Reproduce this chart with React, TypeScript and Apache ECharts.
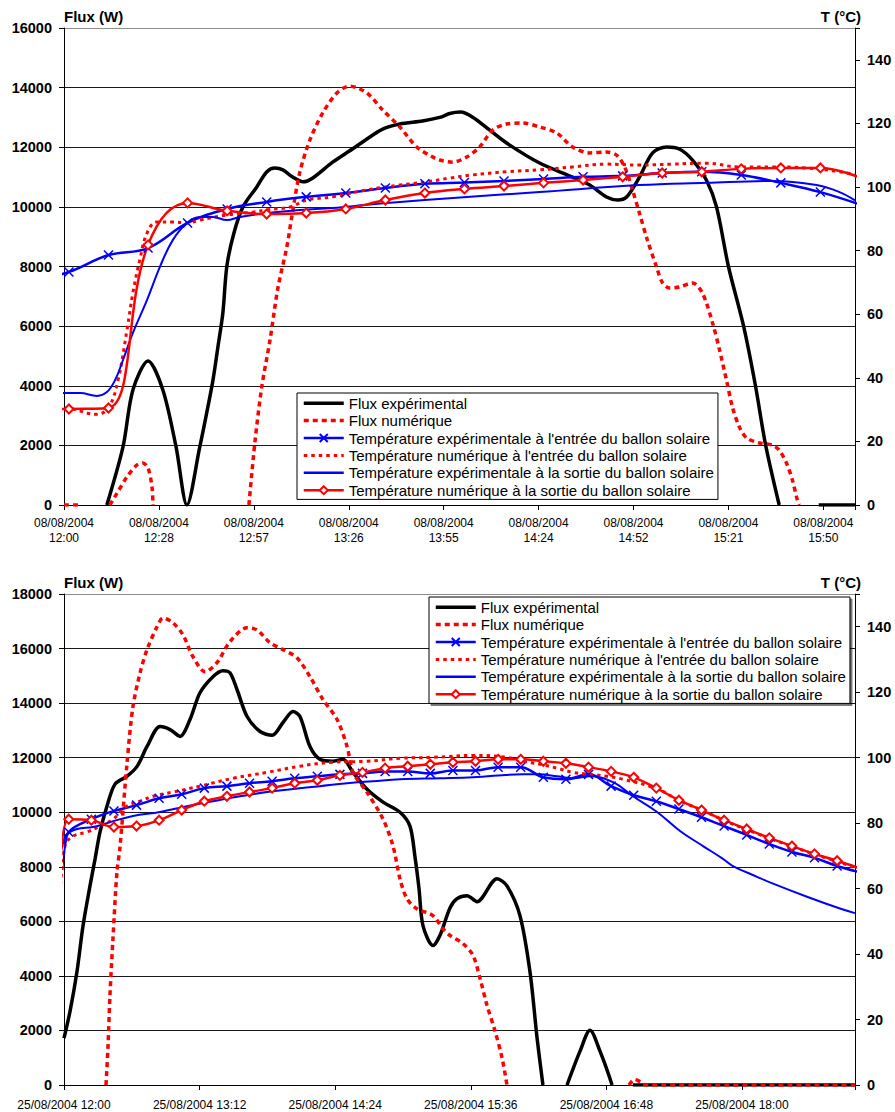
import React, { useEffect, useRef } from 'react';
import * as echarts from 'echarts';

const FONT = '"Liberation Sans", Arial, Helvetica, sans-serif';

const N_FE = 'Flux expérimental';
const N_FN = 'Flux numérique';
const N_TIE = "Température expérimentale à l'entrée du ballon solaire";
const N_TIN = "Température numérique à l'entrée du ballon solaire";
const N_TOE = 'Température expérimentale à la sortie du ballon solaire';
const N_TON = 'Température numérique à la sortie du ballon solaire';

const TOP_DATE = '08/08/2004';
const BOT_DATE = '25/08/2004';
const TOP_X_LABELS = ['12:00', '12:28', '12:57', '13:26', '13:55', '14:24', '14:52', '15:21', '15:50'];
const BOT_X_LABELS = ['12:00', '13:12', '14:24', '15:36', '16:48', '18:00'];

// ---------- top chart (minutes after 12:00) ----------
const TOP_FLUX_EXP = [
  [13, 0], [17.9, 1950], [20.9, 3860], [25.5, 4830], [30, 3860], [34, 1950], [37.3, 0],
  [41.2, 1950], [43.3, 3090], [45.2, 4190], [46.7, 5300], [48.2, 6440], [49.4, 8000], [51.5, 9100],
  [54.3, 10000], [58.5, 10670], [61.5, 11170], [64, 11300], [66.4, 11240], [69.4, 11000], [72.5, 10840],
  [75.5, 10970], [81.5, 11500], [87.5, 11940], [91.8, 12270], [96.7, 12610], [101.9, 12780], [108.8, 12880],
  [114, 13000], [117, 13130], [120.3, 13180], [124, 13010], [129.1, 12580], [134.3, 12140], [144.3, 11470],
  [154.3, 11000], [159.5, 10730], [164.6, 10330], [168, 10230], [170.7, 10330], [174.6, 11000], [178.6, 11810],
  [182.8, 12010], [186.7, 11940], [190.7, 11570], [194.9, 10900], [198, 9990], [201.6, 8000], [206.2, 6000],
  [209.8, 4000], [212.9, 2000], [217, 0], [217.1, null], [228.9, null], [229, 0], [240, 0],
];
const TOP_FLUX_NUM = [
  [0, 0], [5, 0], [5.1, null], [13.8, null], [13.9, 0], [16.1, 400], [19.1, 940], [22.1, 1340], [23.9, 1410],
  [25.5, 1240], [26.7, 600], [27.0, 0], [27.1, null],
  [56.0, null], [56.1, 0], [57.9, 2080], [60, 3960], [62.5, 5530], [64.9, 7280], [67.6, 8650], [69.1, 9660], [71.5, 11140],
  [74.6, 12240], [78.5, 13150], [82.8, 13820], [86.7, 14050], [91.9, 13820], [96.7, 13250], [101.9, 12680],
  [107, 12010], [111.9, 11670], [114, 11570], [117.9, 11500], [122.2, 11670], [126.1, 12010], [130.1, 12580],
  [134.3, 12780], [139.2, 12810], [144.3, 12680], [149.5, 12480], [154.3, 12010], [159.5, 11810], [164.6, 11840],
  [167.6, 11740], [170.1, 11340], [172.2, 10670], [174.6, 9790], [177, 8890], [179.8, 7980], [181.6, 7450],
  [183.7, 7280], [186.7, 7310], [190.7, 7450], [193.7, 7110], [196.8, 6100], [198.9, 5200], [201, 4190],
  [202.8, 3290], [204.9, 2620], [207.1, 2250], [211, 2080], [214.9, 2010], [217, 1840], [219.2, 1410],
  [221, 840], [222.5, 170], [223.1, 0], [223.2, null],
];
const TOP_T_TIMES = [-10.5, 1.5, 13.5, 25.5, 37.5, 49.5, 61.5, 73.5, 85.5, 97.5, 109.5, 121.5, 133.5, 145.5, 157.5, 169.5, 181.5, 193.5, 205.5, 217.5, 229.5, 241.5];
const TOP_TIN_EXP = [70, 73.3, 78.6, 80.8, 88.7, 93.1, 95.3, 96.9, 98.1, 99.7, 101.0, 101.4, 101.9, 102.5, 103.2, 103.5, 104.4, 104.8, 103.8, 101.3, 98.4, 94.5];
const TOP_TOUT_NUM = [30, 30.2, 30.5, 81.8, 95.0, 92.5, 91.5, 91.8, 93.1, 95.9, 98.1, 99.4, 100.3, 101.3, 102.2, 103.2, 104.4, 104.8, 105.7, 106.0, 106.0, 103.0];
const TOP_TIN_NUM = [
  [-2, 30.5], [1.8, 30.3], [10, 28.5], [13.6, 30.8], [16.4, 39.3], [19.1, 55], [20.9, 66.7], [23, 77.1],
  [25.2, 85.5], [28.2, 89.0], [33, 89.0], [37.3, 88.7], [41.2, 89.6], [49.4, 91.2], [57.3, 92.1], [61.5, 92.8],
  [68.5, 93.7], [73.7, 95.9], [81.5, 96.9], [91.9, 99.1], [101.9, 100.6], [110, 101.6], [117, 102.8],
  [124, 103.8], [134.3, 104.8], [144.3, 105.4], [154.3, 106.3], [164.6, 107.2], [174.6, 106.9], [184.6, 107.2],
  [194.9, 107.5], [204.9, 106.3], [214.9, 106.3], [225.2, 106.0], [235.3, 104.8], [240, 103.8],
];
const TOP_TOUT_EXP = [
  [-2, 35.2], [0.3, 35.2], [4.9, 35.2], [10, 34.3], [13, 35.5], [15.5, 39.3], [17.9, 45.6], [20.9, 54.1],
  [25.2, 64.5], [29.1, 74.9], [33, 83.3], [37.3, 88.7], [41.2, 90.6], [45.2, 90.6], [49.4, 89.6], [53.4, 90.6],
  [61.5, 91.8], [71.5, 92.8], [81.5, 93.4], [91.9, 94.4], [101.9, 95.3], [117, 96.5], [144.3, 98.4],
  [174.6, 100.6], [194.9, 101.3], [214.9, 101.9], [228.3, 100.6], [235.3, 98.4], [240, 95.8],
];

// ---------- bottom chart (minutes after 12:00) ----------
const BOT_FLUX_EXP = [
  [0, 1716], [3.2, 2700], [6.9, 4160], [10.1, 5840], [13.8, 7300], [16.5, 8290], [19.1, 9270], [22.8, 10220],
  [27.1, 11030], [33.5, 11320], [38.8, 11680], [44.1, 12410], [51, 13140], [56.3, 13030], [61.6, 12780],
  [66.9, 13400], [72.2, 14380], [79.1, 14970], [84.4, 15190], [88.1, 15110], [91.9, 14490], [97.2, 13510],
  [104.1, 12960], [110.5, 12820], [116.3, 13290], [121.6, 13690], [125.3, 13510], [130.6, 12410], [135.9, 11940],
  [142.8, 11870], [148.1, 11940], [153.5, 11460], [160.9, 10840], [169.4, 10370], [178.4, 10000], [183.7, 9490],
  [186.5, 8290], [188.5, 7200], [190.6, 5840], [195.9, 5110], [199.6, 5480], [205, 6500], [208.7, 6830],
  [214, 6940], [219.3, 6720], [229.9, 7560], [235.2, 7300], [242.1, 6210], [247.4, 4160], [251.2, 1716],
  [254.3, 0], [254.4, null], [267, null], [267.1, 0], [274, 1240], [279.3, 2010], [284.6, 1240], [291, 0],
  [291.1, null], [301.9, null], [302, 0], [420, 0],
];
const BOT_FLUX_NUM = [
  [22.3, 0], [23.4, 1460], [24.4, 3290], [26, 5370], [28.1, 7810], [29.7, 8700], [33.5, 11830],
  [36.6, 13870], [40.4, 15110], [44.1, 15960], [49.4, 16800], [52.6, 17120], [57.9, 16940], [63.2, 16500],
  [68.5, 15700], [74.9, 15150], [81.2, 15480], [88.1, 16250], [97.2, 16760], [102.5, 16680], [109.4, 16210],
  [116.3, 15960], [123.7, 15660], [130.6, 14970], [137.5, 14130], [145, 13400], [150.3, 12410], [153.5, 11460],
  [160.9, 10730], [169.4, 9750], [174.7, 8760], [178.4, 7560], [182.1, 6830], [187.4, 6460], [195.9, 6210],
  [201.2, 5730], [205, 5480], [211.9, 5180], [217.2, 4750], [220.9, 3910], [224.6, 2920], [228.9, 1970],
  [232.6, 990], [235.2, 0], [235.3, null], [299.9, null], [300, 0], [303, 200], [306, 120], [309, 0], [420, 0],
];
const BOT_T_TIMES = [-2.5, 2.5, 14.5, 26.5, 38.5, 50.5, 62.5, 74.5, 86.5, 98.5, 110.5, 122.5, 134.5, 146.5, 158.5, 170.5, 182.5, 194.5, 206.5, 218.5, 230.5, 242.5, 254.5, 266.5, 278.5, 290.5, 302.5, 314.5, 326.5, 338.5, 350.5, 362.5, 374.5, 386.5, 398.5, 410.5, 422.5];
const BOT_TIN_EXP = [70, 77.3, 81.2, 83.7, 85.5, 87.6, 88.8, 90.7, 91.3, 92.2, 92.8, 93.7, 94.3, 94.9, 95.2, 95.8, 95.8, 95.2, 96.1, 96.1, 97.1, 97.1, 94.0, 93.4, 94.9, 91.3, 88.5, 86.7, 84.3, 81.8, 79.1, 76.4, 73.6, 71.2, 69.4, 66.9, 65.0];
const BOT_TOUT_NUM = [55, 81.2, 80.9, 78.8, 79.1, 80.9, 84.0, 86.7, 88.2, 89.5, 90.7, 92.2, 93.1, 94.6, 95.5, 96.8, 97.4, 98.0, 98.6, 98.9, 99.5, 99.5, 98.9, 98.3, 97.1, 95.8, 94.0, 90.7, 87.0, 84.0, 80.9, 78.2, 75.5, 73.0, 70.6, 68.5, 66.2];
const BOT_TIN_NUM = [
  [-2.7, 52], [0.5, 73], [4.8, 76], [12.2, 77.3], [19.1, 79.1], [26, 81.2], [33.5, 85.2], [40.4, 86.7],
  [47.3, 88.2], [57.9, 89.5], [72.2, 91.3], [89.7, 93.7], [107.8, 95.5], [125.3, 97.4], [142.8, 98.6],
  [160.9, 98.9], [178.4, 99.8], [195.9, 100.1], [217.2, 100.7], [235.2, 100.1], [243.7, 98.9], [252.7, 98.0],
  [261.8, 96.8], [270.3, 95.5], [279.3, 94.9], [288.3, 94.3], [296.8, 93.4], [314.9, 90.5], [327.1, 86.8],
  [339.3, 83.8], [351, 80.7], [362.7, 78.0], [374.9, 75.3], [387.1, 72.8], [398.8, 70.4], [410.5, 68.3], [420, 66.4],
];
const BOT_TOUT_EXP = [
  [-2.1, 55], [1.6, 76.1], [6.9, 78.2], [15.4, 78.8], [24.4, 80.3], [36.6, 82.2], [51, 83.4], [65.3, 85.2],
  [79.1, 86.7], [93.5, 88.2], [107.8, 89.5], [121.6, 90.4], [135.9, 91.3], [150.3, 92.2], [164.1, 92.8],
  [178.4, 93.4], [199.6, 93.7], [217.2, 94.0], [243.7, 94.9], [252.7, 94.9], [261.8, 94.3], [270.3, 93.7],
  [279.3, 94.3], [291.5, 92.5], [302.1, 88.2], [314.9, 83.4], [327.1, 77.6], [339.3, 73.0], [349.9, 69.1],
  [355.2, 66.9], [368, 63.6], [376.5, 61.5], [394.5, 57.5], [412, 53.9], [420, 52.5],
];

const X_SYM = 'path://M0,0L10,10M10,0L0,10';
const BLUE = '#0000FF';
const RED = '#FF0000';

const zip = (ts: number[], vs: number[]) => ts.map((t, i) => [t, vs[i]]);

function seriesSet(xi: number, yl: number, yr: number, d: any) {
  const base = { type: 'line', xAxisIndex: xi, smooth: 0.4, animation: false, clip: true, connectNulls: false };
  return [
    { ...base, name: N_FE, yAxisIndex: yl, data: d.fe, symbol: 'none', smooth: 0.3,
      itemStyle: { color: '#000' }, lineStyle: { color: '#000', width: 3.5 } },
    { ...base, name: N_FN, yAxisIndex: yl, data: d.fn, symbol: 'none', smooth: 0.3,
      itemStyle: { color: RED }, lineStyle: { color: RED, width: 3.5, type: [5, 4] } },
    { ...base, name: N_TIE, yAxisIndex: yr, data: d.tie, symbol: X_SYM, symbolSize: 9, showSymbol: true,
      itemStyle: { color: BLUE, borderColor: BLUE, borderWidth: 1.5 }, lineStyle: { color: BLUE, width: 2.5 } },
    { ...base, name: N_TIN, yAxisIndex: yr, data: d.tin, symbol: 'none',
      itemStyle: { color: RED }, lineStyle: { color: RED, width: 3, type: [3.5, 4] } },
    { ...base, name: N_TOE, yAxisIndex: yr, data: d.toe, symbol: 'none',
      itemStyle: { color: BLUE }, lineStyle: { color: BLUE, width: 2 } },
    { ...base, name: N_TON, yAxisIndex: yr, data: d.ton, symbol: 'emptyDiamond', symbolSize: 9, showSymbol: true,
      itemStyle: { color: RED, borderWidth: 1.2 }, lineStyle: { color: RED, width: 2.5 } },
  ];
}

const LEGEND_DATA = [
  { name: N_FE, itemStyle: { opacity: 0 }, lineStyle: { width: 3.5 } },
  { name: N_FN, itemStyle: { opacity: 0 }, lineStyle: { width: 3.5 } },
  { name: N_TIE, lineStyle: { width: 2.5 } },
  { name: N_TIN, itemStyle: { opacity: 0 }, lineStyle: { width: 3 } },
  { name: N_TOE, itemStyle: { opacity: 0 }, lineStyle: { width: 2.5 } },
  { name: N_TON, lineStyle: { width: 2.5 } },
];

function legend(left: number, top: number, shadow: boolean) {
  return {
    orient: 'vertical', left, top, align: 'left', selectedMode: false,
    padding: [1.5, 4, 0.5, 5], itemWidth: 40, itemHeight: 10, itemGap: 0,
    borderColor: '#000', borderWidth: 1, backgroundColor: '#fff',
    ...(shadow ? { shadowColor: 'rgba(0,0,0,0.55)', shadowOffsetX: 2, shadowOffsetY: 2, shadowBlur: 1 } : {}),
    textStyle: { fontSize: 15, color: '#000', lineHeight: 17.4, fontFamily: FONT },
    data: LEGEND_DATA,
  };
}

function xAxis(gi: number, max: number, interval: number, labels: string[], date: string, twoLines: boolean) {
  return {
    type: 'value', gridIndex: gi, min: 0, max, interval,
    axisLine: { show: true, onZero: false, lineStyle: { color: '#000', width: 1 } },
    axisTick: { show: true, length: 5, lineStyle: { color: '#000' } },
    splitLine: { show: false },
    axisLabel: {
      color: '#000', fontSize: 12, lineHeight: 15, margin: twoLines ? 10 : 12, fontFamily: FONT,
      formatter: (v: number) => {
        const i = Math.round(v / interval);
        if (Math.abs(i * interval - v) > 0.01 || !labels[i]) return '';
        return twoLines ? `${date}\n${labels[i]}` : `${date} ${labels[i]}`;
      },
    },
  };
}

function yLeft(gi: number, max: number) {
  const n = max / 2000 + 1;
  const colors = Array.from({ length: n }, (_, i) => (i === n - 1 ? '#8c8c8c' : '#1a1a1a'));
  return {
    type: 'value', gridIndex: gi, position: 'left', min: 0, max, interval: 2000,
    name: 'Flux (W)', nameLocation: 'end', nameGap: 12,
    nameTextStyle: { align: 'left', verticalAlign: 'middle', fontWeight: 'bold', fontSize: 15, color: '#000', fontFamily: FONT },
    axisLine: { show: true, lineStyle: { color: '#000', width: 1 } },
    axisTick: { show: true, length: 5, lineStyle: { color: '#000' } },
    axisLabel: { fontWeight: 'bold', fontSize: 14.5, color: '#000', margin: 12, fontFamily: FONT,
      formatter: (v: number) => String(v) },
    splitLine: { show: true, lineStyle: { color: colors, width: 1 } },
  };
}

function yRight(gi: number) {
  return {
    type: 'value', gridIndex: gi, position: 'right', min: 0, max: 150, interval: 20,
    name: 'T (°C)', nameLocation: 'end', nameGap: 12,
    nameTextStyle: { align: 'right', verticalAlign: 'middle', fontWeight: 'bold', fontSize: 15, color: '#000', fontFamily: FONT, padding: [0, -6, 0, 0] },
    axisLine: { show: true, lineStyle: { color: '#000', width: 1 } },
    axisTick: { show: true, length: 5, lineStyle: { color: '#000' } },
    axisLabel: { fontWeight: 'bold', fontSize: 14.5, color: '#000', margin: 12, fontFamily: FONT,
      formatter: (v: number) => (v > 145 ? '' : String(v)) },
    splitLine: { show: false },
  };
}

export default function App() {
  const ref = useRef<HTMLDivElement>(null);
  useEffect(() => {
    if (!ref.current) return;
    const chart = echarts.init(ref.current, null, { renderer: 'svg' });
    const option: any = {
      animation: false,
      backgroundColor: '#fff',
      textStyle: { fontFamily: FONT },
      grid: [
        { left: 64, top: 28, width: 791, height: 477 },
        { left: 64, top: 594, width: 791, height: 493 },
      ],
      xAxis: [
        xAxis(0, 240, 28.8, TOP_X_LABELS, TOP_DATE, true),
        xAxis(1, 420, 72, BOT_X_LABELS, BOT_DATE, false),
      ],
      yAxis: [yLeft(0, 16000), yRight(0), yLeft(1, 18000), yRight(1)],
      legend: [legend(297, 393, false), legend(429, 597, true)],
      series: [
        ...seriesSet(0, 0, 1, {
          fe: TOP_FLUX_EXP, fn: TOP_FLUX_NUM, tie: zip(TOP_T_TIMES, TOP_TIN_EXP),
          tin: TOP_TIN_NUM, toe: TOP_TOUT_EXP, ton: zip(TOP_T_TIMES, TOP_TOUT_NUM),
        }),
        ...seriesSet(1, 2, 3, {
          fe: BOT_FLUX_EXP, fn: BOT_FLUX_NUM, tie: zip(BOT_T_TIMES, BOT_TIN_EXP),
          tin: BOT_TIN_NUM, toe: BOT_TOUT_EXP, ton: zip(BOT_T_TIMES, BOT_TOUT_NUM),
        }),
      ],
    };
    chart.setOption(option);
    return () => chart.dispose();
  }, []);
  return <div ref={ref} style={{ position: 'absolute', left: 0, top: 0, width: 895, height: 1112 }} />;
}
